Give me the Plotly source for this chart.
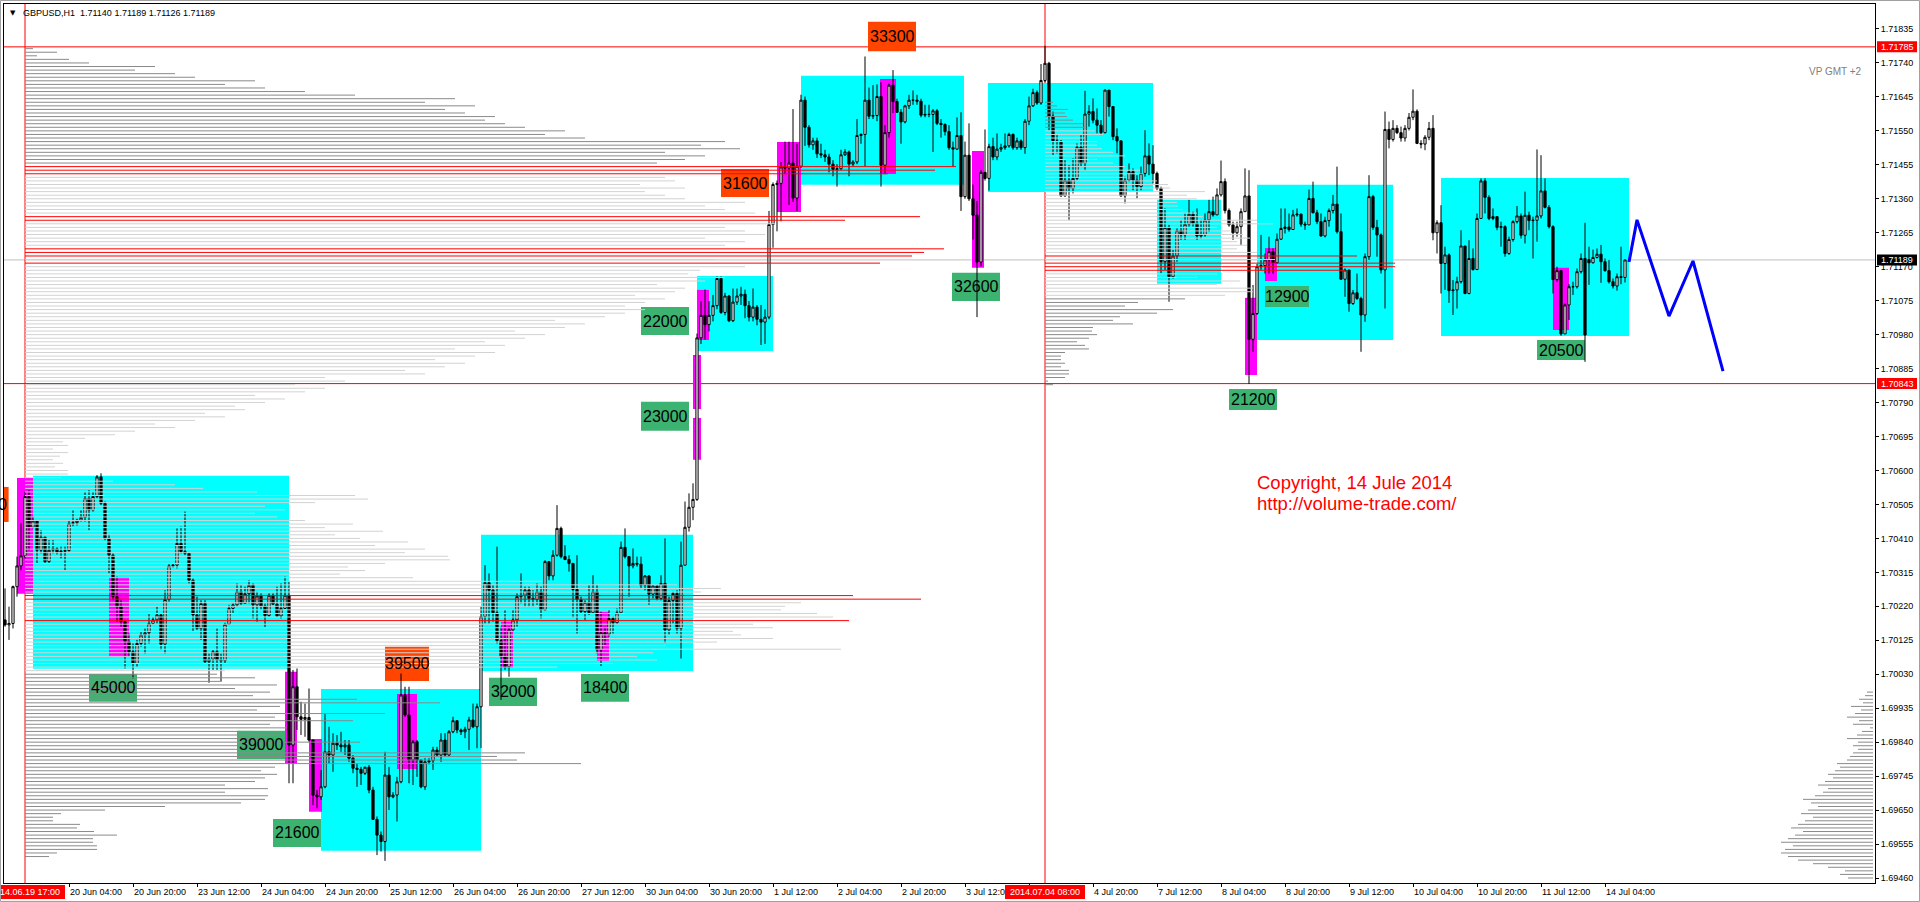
import plotly.graph_objects as go

FONT = "Liberation Sans"

# ---------------- candles (H1 GBPUSD), values in points: price = 1 + v/100000 ----------------
first_bar = -5          # bar 0 = 2014.06.19 17:00
first_open = 70182
close_pts = [
    70168, 70172, 70275, 70333, 70361, 70527, 70441, 70459, 70377, 70413,
    70345, 70377, 70381, 70372, 70374, 70376, 70452, 70454, 70461, 70469,
    70522, 70489, 70527, 70582, 70508, 70410, 70363, 70247, 70219, 70177,
    70121, 70093, 70060, 70116, 70140, 70146, 70172, 70182, 70196, 70114,
    70239, 70333, 70335, 70396, 70373, 70368, 70293, 70196, 70158, 70228,
    70065, 70072, 70093, 70070, 70068, 70170, 70214, 70224, 70261, 70228,
    70255, 70279, 70224, 70249, 70221, 70194, 70251, 70226, 70193, 70214,
    70251, 69832, 69995, 69911, 69904, 69909, 69846, 69692, 69687, 69715,
    69813, 69804, 69837, 69832, 69827, 69832, 69795, 69767, 69764, 69753,
    69770, 69706, 69624, 69580, 69562, 69748, 69687, 69692, 69729, 69972,
    69916, 69790, 69841, 69790, 69715, 69785, 69788, 69818, 69804, 69846,
    69804, 69869, 69900, 69874, 69869, 69876, 69902, 69883, 69939, 70191,
    70286, 70265, 70202, 70124, 70079, 70051, 70154, 70182, 70247, 70251,
    70265, 70242, 70239, 70261, 70210, 70345, 70305, 70363, 70438, 70359,
    70351, 70340, 70267, 70239, 70205, 70231, 70202, 70261, 70098, 70146,
    70142, 70186, 70174, 70202, 70385, 70359, 70333, 70340, 70338, 70279,
    70305, 70254, 70277, 70242, 70284, 70154, 70236, 70256, 70158, 70335,
    70441, 70497, 70519, 70971, 71034, 71008, 71034, 71061, 71137, 71042,
    71088, 71019, 71071, 71088, 71093, 71061, 71029, 71057, 71023, 71015,
    71029, 71288, 71400, 71403, 71449, 71446, 71460, 71362, 71451, 71636,
    71560, 71511, 71522, 71486, 71483, 71477, 71457, 71442, 71444, 71483,
    71491, 71457, 71463, 71537, 71540, 71636, 71591, 71593, 71646, 71454,
    71545, 71678, 71632, 71602, 71575, 71620, 71636, 71636, 71633, 71594,
    71596, 71596, 71606, 71571, 71568, 71548, 71503, 71499, 71537, 71366,
    71482, 71360, 71314, 71183, 71434, 71417, 71506, 71477, 71499, 71503,
    71508, 71540, 71503, 71522, 71503, 71577, 71620, 71657, 71628, 71691,
    71739, 71591, 71522, 71521, 71368, 71412, 71389, 71417, 71504, 71459,
    71597, 71604, 71580, 71566, 71545, 71664, 71618, 71534, 71522, 71368,
    71412, 71436, 71412, 71394, 71431, 71480, 71457, 71431, 71389, 71184,
    71280, 71142, 71200, 71271, 71259, 71289, 71317, 71291, 71256, 71259,
    71301, 71324, 71315, 71371, 71408, 71327, 71287, 71265, 71282, 71324,
    71368, 70967, 71039, 71170, 71173, 71189, 71212, 71181, 71247, 71277,
    71281, 71274, 71315, 71317, 71289, 71287, 71361, 71321, 71296, 71256,
    71299, 71327, 71345, 71268, 71135, 71161, 71067, 71097, 71081, 71035,
    71198, 71366, 71280, 71259, 71161, 71554, 71526, 71557, 71545, 71530,
    71557, 71588, 71605, 71515, 71513, 71532, 71557, 71265, 71293, 71179,
    71203, 71103, 71105, 71128, 71228, 71095, 71193, 71162, 71305, 71410,
    71364, 71305, 71310, 71280, 71282, 71207, 71246, 71296, 71312, 71258,
    71314, 71299, 71300, 71312, 71382, 71336, 71282, 71134, 71159, 70982,
    71063, 71114, 71114, 71156, 71193, 70979, 71181, 71196, 71205, 71184,
    71159, 71128, 71116, 71142, 71140, 71189,
]
high_pts = [
    70270, 70219, 70278, 70359, 70452, 70540, 70545, 70471, 70461, 70433,
    70415, 70405, 70405, 70385, 70387, 70387, 70461, 70489, 70465, 70489,
    70540, 70545, 70540, 70587, 70592, 70513, 70420, 70368, 70303, 70237,
    70182, 70144, 70116, 70126, 70149, 70158, 70200, 70190, 70219, 70200,
    70265, 70340, 70340, 70438, 70443, 70485, 70368, 70298, 70247, 70237,
    70237, 70088, 70098, 70158, 70088, 70174, 70224, 70228, 70284, 70279,
    70275, 70293, 70284, 70261, 70256, 70228, 70256, 70256, 70275, 70284,
    70303, 70289, 70042, 70046, 69953, 69948, 69990, 69846, 69706, 69762,
    69920, 69883, 69865, 69860, 69869, 69846, 69846, 69804, 69781, 69771,
    69771, 69776, 69715, 69632, 69590, 69813, 69771, 69700, 69743, 70032,
    69995, 69995, 69846, 69846, 69790, 69795, 69795, 69827, 69827, 69865,
    69865, 69874, 69911, 69902, 69878, 69883, 69911, 69948, 69948, 70219,
    70335, 70312, 70279, 70387, 70163, 70210, 70163, 70210, 70256, 70312,
    70275, 70275, 70265, 70284, 70275, 70349, 70345, 70377, 70503, 70443,
    70391, 70363, 70340, 70363, 70247, 70237, 70279, 70307, 70279, 70205,
    70163, 70210, 70191, 70214, 70401, 70438, 70354, 70382, 70359, 70359,
    70307, 70307, 70279, 70275, 70307, 70410, 70247, 70261, 70265, 70401,
    70513, 70536, 70564, 70983, 71074, 71106, 71074, 71091, 71143, 71143,
    71097, 71091, 71109, 71109, 71114, 71106, 71074, 71109, 71063, 71063,
    71051, 71326, 71406, 71411, 71463, 71520, 71520, 71611, 71514, 71651,
    71646, 71566, 71531, 71531, 71514, 71497, 71486, 71468, 71457, 71497,
    71499, 71495, 71468, 71583, 71543, 71758, 71671, 71678, 71680, 71686,
    71566, 71682, 71720, 71640, 71611, 71623, 71651, 71663, 71651, 71640,
    71623, 71623, 71611, 71611, 71583, 71571, 71566, 71520, 71588, 71602,
    71520, 71571, 71400, 71354, 71440, 71554, 71514, 71531, 71543, 71514,
    71543, 71545, 71543, 71531, 71526, 71583, 71646, 71668, 71663, 71737,
    71788, 71743, 71604, 71538, 71524, 71468, 71454, 71473, 71515, 71538,
    71662, 71622, 71641, 71613, 71580, 71666, 71646, 71618, 71557, 71524,
    71422, 71459, 71445, 71426, 71450, 71552, 71515, 71510, 71436, 71394,
    71333, 71287, 71217, 71277, 71301, 71319, 71357, 71324, 71333, 71301,
    71319, 71357, 71366, 71389, 71467, 71417, 71333, 71296, 71296, 71333,
    71445, 71440, 71119, 71178, 71259, 71207, 71254, 71221, 71263, 71333,
    71333, 71319, 71329, 71333, 71319, 71296, 71386, 71408, 71329, 71319,
    71310, 71333, 71371, 71450, 71319, 71165, 71161, 71105, 71151, 71086,
    71207, 71426, 71371, 71301, 71263, 71604, 71576, 71580, 71566, 71562,
    71566, 71600, 71666, 71610, 71524, 71538, 71575, 71594, 71300, 71342,
    71226, 71207, 71133, 71142, 71272, 71226, 71244, 71221, 71319, 71417,
    71417, 71370, 71333, 71310, 71296, 71286, 71254, 71300, 71340, 71319,
    71380, 71324, 71310, 71498, 71482, 71417, 71342, 71286, 71170, 71161,
    71067, 71121, 71128, 71165, 71207, 71293, 71226, 71218, 71221, 71231,
    71193, 71189, 71137, 71151, 71226, 71189,
]
low_pts = [
    70163, 70126, 70158, 70247, 70321, 70354, 70377, 70438, 70340, 70368,
    70340, 70340, 70368, 70365, 70354, 70321, 70373, 70444, 70446, 70457,
    70457, 70433, 70485, 70522, 70503, 70405, 70312, 70237, 70177, 70163,
    70046, 70079, 70018, 70051, 70107, 70088, 70116, 70170, 70172, 70098,
    70088, 70233, 70328, 70326, 70368, 70363, 70284, 70149, 70154, 70126,
    70060, 70006, 70042, 70042, 70009, 70060, 70168, 70200, 70219, 70224,
    70228, 70228, 70186, 70177, 70210, 70161, 70191, 70224, 70191, 70186,
    70219, 69725, 69725, 69874, 69860, 69855, 69841, 69664, 69655, 69678,
    69711, 69781, 69757, 69818, 69813, 69804, 69785, 69753, 69715, 69720,
    69748, 69697, 69622, 69524, 69534, 69508, 69650, 69683, 69618, 69725,
    69911, 69725, 69720, 69743, 69711, 69706, 69778, 69762, 69799, 69785,
    69799, 69799, 69865, 69865, 69860, 69851, 69818, 69879, 69823, 69823,
    70172, 70172, 70177, 70116, 69958, 70042, 70023, 70149, 70163, 70228,
    70219, 70219, 70219, 70224, 70186, 70208, 70293, 70293, 70359, 70354,
    70349, 70317, 70189, 70144, 70200, 70182, 70196, 70200, 70088, 70053,
    70112, 70135, 70144, 70172, 70200, 70354, 70247, 70326, 70331, 70270,
    70265, 70224, 70242, 70237, 70237, 70118, 70140, 70172, 70144, 70074,
    70335, 70429, 70461, 70515, 70954, 70966, 70989, 71017, 71051, 71038,
    71034, 71015, 71015, 71063, 71063, 71026, 71017, 71017, 71006, 70951,
    70954, 71023, 71223, 71269, 71297, 71429, 71343, 71351, 71326, 71446,
    71508, 71503, 71497, 71474, 71474, 71463, 71434, 71423, 71394, 71440,
    71480, 71423, 71451, 71457, 71514, 71451, 71583, 71583, 71577, 71394,
    71429, 71531, 71600, 71600, 71514, 71571, 71611, 71623, 71623, 71588,
    71588, 71588, 71491, 71566, 71531, 71537, 71497, 71449, 71497, 71326,
    71360, 71354, 71246, 71029, 71171, 71411, 71383, 71468, 71468, 71491,
    71497, 71503, 71497, 71497, 71497, 71486, 71566, 71617, 71623, 71623,
    71686, 71552, 71482, 71487, 71366, 71366, 71301, 71375, 71412, 71450,
    71440, 71562, 71571, 71543, 71538, 71543, 71590, 71524, 71487, 71366,
    71347, 71408, 71384, 71361, 71384, 71422, 71426, 71403, 71384, 71151,
    71161, 71072, 71137, 71184, 71245, 71245, 71282, 71282, 71245, 71249,
    71254, 71268, 71310, 71315, 71366, 71319, 71282, 71245, 71254, 71231,
    71329, 70842, 70932, 71035, 71161, 71151, 71151, 71151, 71179, 71245,
    71263, 71268, 71277, 71310, 71282, 71273, 71287, 71319, 71289, 71254,
    71252, 71282, 71319, 71263, 71133, 71086, 71044, 71063, 71077, 70932,
    71016, 71189, 71273, 71198, 71151, 71053, 71501, 71520, 71541, 71520,
    71520, 71551, 71580, 71513, 71501, 71496, 71524, 71244, 71207, 71095,
    71105, 71069, 71035, 71053, 71123, 71093, 71093, 71159, 71161, 71308,
    71319, 71300, 71300, 71272, 71226, 71198, 71203, 71240, 71291, 71249,
    71235, 71272, 71193, 71240, 71305, 71333, 71277, 71095, 71128, 70977,
    70983, 71021, 71091, 71109, 71151, 70904, 71119, 71179, 71193, 71125,
    71156, 71123, 71109, 71103, 71121, 71126,
]
open_override = {391: 71190, 400: 71140}

# ---------------- axis labels ----------------
time_tick_bars = [11, 27, 43, 59, 75, 91, 107, 123, 139, 155, 171, 187, 203,
                  219, 235, 251, 267, 283, 299, 315, 331, 347, 363, 379, 395]
time_tick_text = ["20 Jun 04:00", "20 Jun 20:00", "23 Jun 12:00", "24 Jun 04:00",
                  "24 Jun 20:00", "25 Jun 12:00", "26 Jun 04:00", "26 Jun 20:00",
                  "27 Jun 12:00", "30 Jun 04:00", "30 Jun 20:00", "1 Jul 12:00",
                  "2 Jul 04:00", "2 Jul 20:00", "3 Jul 12:00", "4 Jul 04:00",
                  "4 Jul 20:00", "7 Jul 12:00", "8 Jul 04:00", "8 Jul 20:00",
                  "9 Jul 12:00", "10 Jul 04:00", "10 Jul 20:00", "11 Jul 12:00",
                  "14 Jul 04:00"]
price_ticks = ["1.69460", "1.69555", "1.69650", "1.69745", "1.69840", "1.69935",
               "1.70030", "1.70125", "1.70220", "1.70315", "1.70410", "1.70505",
               "1.70600", "1.70695", "1.70790", "1.70885", "1.70980", "1.71075",
               "1.71170", "1.71265", "1.71360", "1.71455", "1.71550", "1.71645",
               "1.71740", "1.71835"]

# ---------------- volume profiles (one line per pip; level k -> 1.6946 + k*0.0001) ----------------
vp_base_price = 1.6946
vp_step = 0.0001
vp_bar_per_unit = 0.25

vp1_start_bar = 0
vp1_first_level = 6
vp1_len = [
    24, 32, 72, 72, 68, 68, 92, 69, 52, 55,
    28, 28, 36, 80, 140, 216, 240, 243, 200, 243,
    200, 230, 240, 252, 236, 250, 556, 492, 472, 500,
    260, 248, 335, 240, 255, 228, 262, 245, 328, 250,
    360, 232, 255, 415, 332, 228, 245, 210, 252, 195,
    230, 192, 200, 532, 588, 632, 612, 628, 816, 640,
    692, 748, 716, 708, 748, 728, 824, 808, 792, 756,
    760, 776, 896, 828, 676, 696, 652, 517, 388, 315,
    340, 323, 360, 425, 423, 380, 400, 350, 383, 335,
    310, 358, 300, 328, 280, 252, 230, 260, 240, 290,
    343, 330, 232, 178, 150, 88, 36, 43, 43, 30,
    38, 28, 35, 43, 28, 43, 38, 60, 90, 110,
    150, 130, 170, 200, 180, 220, 210, 240, 260, 230,
    280, 300, 270, 320, 300, 400, 380, 420, 440, 410,
    450, 470, 430, 480, 460, 500, 520, 490, 540, 560,
    530, 580, 600, 620, 600, 620, 640, 610, 650, 660,
    632, 680, 700, 663, 675, 720, 855, 690, 887, 899,
    919, 700, 720, 680, 740, 720, 700, 750, 820, 895,
    730, 700, 680, 720, 660, 640, 620, 660, 615, 650,
    640, 863, 910, 931, 632, 660, 680, 640, 715, 676,
    700, 560, 520, 540, 500, 480, 460, 470, 440, 420,
    450, 400, 430, 330, 280, 240, 200, 230, 170, 150,
    110, 130, 64, 44, 12, 32, 8,
]
vp1_red = [72, 78, 79, 172, 174, 175, 176, 184, 185, 197, 198, 199]
vp1_dark_low, vp1_dark_high = 57, 199

vp2_start_bar = 255
vp2_first_level = 138
vp2_len = [
    8, 3, 20, 24, 24, 16, 20, 16, 16, 20,
    44, 40, 32, 44, 52, 47, 48, 88, 68, 75,
    112, 128, 80, 93, 140, 180, 208, 208, 172, 195,
    152, 172, 300, 350, 350, 230, 312, 212, 192, 202,
    192, 205, 198, 185, 172, 228, 212, 158, 152, 138,
    133, 132, 152, 142, 160, 125, 123, 112, 82, 98,
    95, 80, 68, 52, 80, 68, 57, 52, 52, 40,
    58, 50, 40, 38, 28, 22, 20, 23, 12, 8,
]
vp2_red = [170, 171, 172, 174]
vp2_dark_low, vp2_dark_high = 162, 210

vp3_end_bar = 462
vp3_first_level = 0
vp3_len = [
    25, 33, 28, 45, 60, 75, 85, 92, 88, 80,
    92, 85, 78, 70, 82, 75, 68, 60, 72, 65,
    55, 62, 70, 58, 50, 45, 55, 48, 40, 45,
    38, 33, 36, 26, 23, 20, 15, 20, 15, 26,
    16, 11, 3, 20, 14, 26, 18, 12, 22, 10,
    14, 8, 6,
]

# ---------------- zones / marks (bar0, bar1, price_low, price_high) ----------------
cyan_boxes = [
    (2, 66, 1.70045, 1.70585), (74, 114, 1.69536, 1.69989),
    (114, 167, 1.70039, 1.70420), (168, 187, 1.70934, 1.71144),
    (194, 234.75, 1.71399, 1.71704), (240.75, 282, 1.71379, 1.71684),
    (283, 299, 1.71122, 1.71357), (308, 342, 1.70965, 1.71399),
    (354, 401, 1.70976, 1.71418),
]
magenta_boxes = [
    (-2, 2, 1.70255, 1.70579), (21, 26, 1.70079, 1.70302),
    (65, 68, 1.69779, 1.70037), (71, 74.25, 1.69645, 1.69849),
    (93, 98, 1.69765, 1.69975), (119, 122, 1.70048, 1.70176),
    (143, 146, 1.70067, 1.70204), (167, 169, 1.70772, 1.70923),
    (167, 169, 1.70630, 1.70747), (168, 171, 1.70965, 1.71105),
    (188, 194, 1.71323, 1.71519), (213.75, 217.75, 1.71429, 1.71695),
    (236.75, 239.75, 1.71167, 1.71494), (305, 308, 1.70867, 1.71083),
    (310, 313, 1.71130, 1.71222), (382, 386, 1.70993, 1.71167),
]
volume_labels = [  # text, kind, bar0, bar1, price_low, price_high
    ("45000", "g", 16, 28, 1.69953, 1.70031),
    ("39000", "g", 53, 65, 1.69793, 1.69872),
    ("21600", "g", 62, 74, 1.69547, 1.69625),
    ("39500", "o", 90, 101, 1.70011, 1.70107),
    ("32000", "g", 116, 128, 1.69941, 1.70020),
    ("18400", "g", 139, 151, 1.69953, 1.70031),
    ("22000", "g", 154, 166, 1.70979, 1.71057),
    ("23000", "g", 154, 166, 1.70711, 1.70792),
    ("31600", "o", 174, 186, 1.71365, 1.71443),
    ("33300", "o", 210.75, 222.75, 1.71773, 1.71855),
    ("32600", "g", 231.75, 243.75, 1.71074, 1.71153),
    ("12900", "g", 310, 321, 1.71057, 1.71116),
    ("21200", "g", 301, 313, 1.70769, 1.70828),
    ("20500", "g", 378, 390, 1.70909, 1.70965),
    ("0", "o", -10, -4.1, 1.70456, 1.70554),
]
zig_bars = [401, 403, 411, 417, 424.5]
zig_prices = [1.71183, 1.71301, 1.71032, 1.71186, 1.70878]
red_levels = [1.71785, 1.70843]
red_bars = [0, 255]
red_bar_labels = ["2014.06.19 17:00", "2014.07.04 08:00"]
last_price = 1.71189
header = "GBPUSD,H1\u00a0\u00a01.71140 1.71189 1.71126 1.71189"

# ---------------- geometry of the window ----------------
W, H = 1920, 902
L_PX, R_PX, T_PX, B_PX = 4, 1875, 4, 883
X_RANGE = [-5.25, 462.5]
Y_RANGE = [1.69446, 1.719049]


def px_x(px):
    return (px - L_PX) / (R_PX - L_PX)


def px_y(py):
    return (B_PX - py) / (B_PX - T_PX)


def price_paper(p):
    return (p - Y_RANGE[0]) / (Y_RANGE[1] - Y_RANGE[0])


to_p = lambda v: 1 + v / 100000.0

n = min(len(close_pts), len(high_pts), len(low_pts))
bars = list(range(first_bar, first_bar + n))
opens = [first_open] + close_pts[:n - 1]
for b, v in open_override.items():
    opens[b - first_bar] = v
O = [to_p(v) for v in opens]
C = [to_p(v) for v in close_pts[:n]]
Hh = [to_p(max(high_pts[i], opens[i], close_pts[i])) for i in range(n)]
Ll = [to_p(min(low_pts[i], opens[i], close_pts[i])) for i in range(n)]

shapes = []


def rect(x0, x1, y0, y1, color, layer="below", xref="x", yref="y", line=None):
    shapes.append(dict(type="rect", xref=xref, yref=yref, x0=x0, x1=x1, y0=y0, y1=y1,
                       fillcolor=color, line=line or dict(width=0), layer=layer))


for b0, b1, p0, p1 in cyan_boxes:
    rect(b0, b1, p0, p1, "#00ffff")
for b0, b1, p0, p1 in magenta_boxes:
    rect(b0, b1, p0, p1, "#ff00ff")
for txt, kind, b0, b1, p0, p1 in volume_labels:
    rect(b0, b1, p0, p1, "#3cb371" if kind == "g" else "#ff4500")

# current price and red lines
shapes.append(dict(type="line", xref="paper", yref="y", x0=0, x1=1, y0=last_price, y1=last_price,
                   line=dict(color="#c0c0c0", width=1), layer="below"))
for lv in red_levels:
    shapes.append(dict(type="line", xref="paper", yref="y", x0=0, x1=1, y0=lv, y1=lv,
                       line=dict(color="#ff0000", width=1), layer="below"))
for b in red_bars:
    shapes.append(dict(type="line", xref="x", yref="paper", x0=b, x1=b, y0=0, y1=1,
                       line=dict(color="#ff0000", width=1), layer="below"))

traces = []


def profile_traces(segments):
    groups = {}
    for x0, x1, y, col in segments:
        g = groups.setdefault(col, ([], []))
        g[0].extend([x0, x1, None])
        g[1].extend([y, y, None])
    out = []
    for col, (xs, ys) in groups.items():
        out.append(go.Scatter(x=xs, y=ys, mode="lines", line=dict(color=col, width=1),
                              hoverinfo="skip", showlegend=False))
    return out


DARK, LIGHT, RED = "#8a8a8a", "#d2d2d2", "#ff0000"
segs = []
for j, ln in enumerate(vp1_len):
    k = vp1_first_level + j
    col = RED if k in vp1_red else (DARK if (k <= vp1_dark_low or k >= vp1_dark_high) else LIGHT)
    segs.append((vp1_start_bar, vp1_start_bar + ln * vp_bar_per_unit, vp_base_price + k * vp_step, col))
for j, ln in enumerate(vp2_len):
    k = vp2_first_level + j
    col = RED if k in vp2_red else (DARK if (k <= vp2_dark_low or k >= vp2_dark_high) else LIGHT)
    segs.append((vp2_start_bar, vp2_start_bar + ln * vp_bar_per_unit, vp_base_price + k * vp_step, col))
for j, ln in enumerate(vp3_len):
    k = vp3_first_level + j
    segs.append((vp3_end_bar - ln * vp_bar_per_unit, vp3_end_bar, vp_base_price + k * vp_step, DARK))
traces += profile_traces(segs)

traces.append(go.Scatter(x=zig_bars, y=zig_prices, mode="lines", line=dict(color="#0000ff", width=3),
                         hoverinfo="skip", showlegend=False))

traces.append(go.Candlestick(
    x=bars, open=O, high=Hh, low=Ll, close=C,
    increasing=dict(line=dict(color="black", width=1), fillcolor="white"),
    decreasing=dict(line=dict(color="black", width=1), fillcolor="black"),
    whiskerwidth=0, showlegend=False, hoverinfo="skip"))

fig = go.Figure(traces)

annotations = []
for txt, kind, b0, b1, p0, p1 in volume_labels:
    if txt == "0":
        annotations.append(dict(x=b1, y=(p0 + p1) / 2, xref="x", yref="y", text=txt, showarrow=False,
                                xanchor="right", yanchor="middle",
                                font=dict(family=FONT, size=16, color="black")))
    else:
        annotations.append(dict(x=(b0 + b1) / 2, y=(p0 + p1) / 2, xref="x", yref="y", text=txt,
                                showarrow=False, xanchor="center", yanchor="middle",
                                font=dict(family=FONT, size=16, color="black")))

annotations.append(dict(x=px_x(21), y=px_y(13), xref="paper", yref="paper", text=header,
                        showarrow=False, xanchor="left", yanchor="middle",
                        font=dict(family=FONT, size=9, color="black")))
annotations.append(dict(x=px_x(12.5), y=px_y(13), xref="paper", yref="paper", text="\u25bc",
                        showarrow=False, xanchor="center", yanchor="middle",
                        font=dict(family="DejaVu Sans", size=7, color="black")))
annotations.append(dict(x=(1864 - 25) / 4, y=1.71715, xref="x", yref="y", text="VP GMT +2",
                        showarrow=False, xanchor="right", yanchor="middle",
                        font=dict(family=FONT, size=10, color="#808080")))
annotations.append(dict(x=307.5, y=1.70565, xref="x", yref="y", text="Copyright, 14 Jule 2014",
                        showarrow=False, xanchor="left", yanchor="middle",
                        font=dict(family=FONT, size=18.5, color="#ff0000")))
annotations.append(dict(x=307.5, y=1.70509, xref="x", yref="y", text="http://volume-trade.com/",
                        showarrow=False, xanchor="left", yanchor="middle",
                        font=dict(family=FONT, size=18.5, color="#ff0000")))

# price-axis labels for lines
half = 5.5 / 35747.0
for lv, col in [(red_levels[0], "#ff0000"), (red_levels[1], "#ff0000"), (last_price, "#000000")]:
    rect(px_x(1877), px_x(1917), price_paper(lv - half), price_paper(lv + half), col,
         layer="above", xref="paper", yref="paper")
    annotations.append(dict(x=px_x(1897), y=lv, xref="paper", yref="y", text="%.5f" % lv,
                            showarrow=False, xanchor="center", yanchor="middle",
                            font=dict(family=FONT, size=9, color="white")))

# time-axis labels for vertical lines
for b, txt in zip(red_bars, red_bar_labels):
    cx = 25 + 4 * b
    rect(px_x(cx - 40), px_x(cx + 40), px_y(899), px_y(885), "#ff0000",
         layer="above", xref="paper", yref="paper")
    annotations.append(dict(x=px_x(cx), y=px_y(892), xref="paper", yref="paper", text=txt,
                            showarrow=False, xanchor="center", yanchor="middle",
                            font=dict(family=FONT, size=9, color="white")))

# outer window border
shapes.append(dict(type="rect", xref="paper", yref="paper", x0=px_x(0.5), x1=px_x(1919.5),
                   y0=px_y(901.5), y1=px_y(0.5), line=dict(color="#a0a0a0", width=1),
                   fillcolor="rgba(0,0,0,0)", layer="above"))

fig.update_layout(
    width=W, height=H,
    margin=dict(l=L_PX, r=W - R_PX, t=T_PX, b=H - B_PX, pad=0),
    paper_bgcolor="white", plot_bgcolor="white",
    showlegend=False, boxgap=0.45, boxgroupgap=0,
    shapes=shapes, annotations=annotations,
    font=dict(family=FONT, size=9, color="black"),
    xaxis=dict(range=X_RANGE, showgrid=False, zeroline=False, showline=True, linecolor="black",
               linewidth=1, mirror=True, ticks="outside", ticklen=3, tickcolor="black",
               tickmode="array", tickvals=time_tick_bars, ticktext=time_tick_text,
               ticklabelposition="outside right",
               tickfont=dict(family=FONT, size=9, color="black"), rangeslider=dict(visible=False),
               automargin=False, fixedrange=True),
    yaxis=dict(range=Y_RANGE, side="right", showgrid=False, zeroline=False, showline=True,
               linecolor="black", linewidth=1, mirror=True, ticks="outside", ticklen=3,
               tickcolor="black", tickmode="array", tickvals=[float(t) for t in price_ticks],
               ticktext=price_ticks, tickformat=".5f",
               tickfont=dict(family=FONT, size=9, color="black"), automargin=False, fixedrange=True),
)

fig.write_html("out.html", config={"displayModeBar": False},
               post_script="document.body.style.margin='0px';document.body.style.overflow='hidden';")
